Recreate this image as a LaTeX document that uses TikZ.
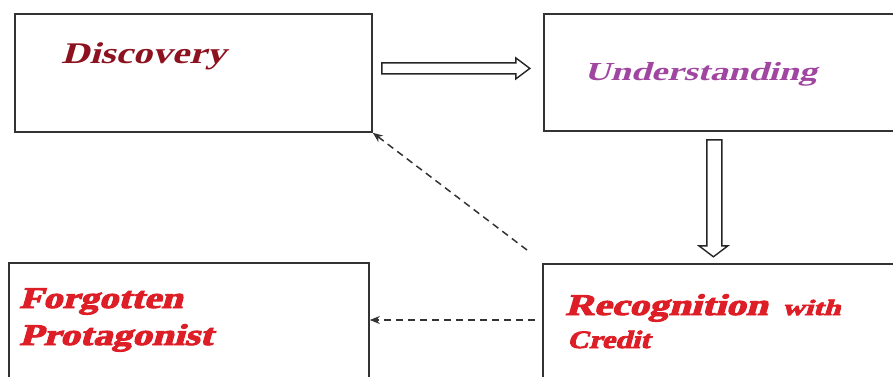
\documentclass[tikz,border=0pt]{standalone}
\usepackage{fontspec}
\setmainfont{Liberation Serif}
\newfontfamily\bifont[FakeSlant=0.22]{Liberation Serif Bold}
\newfontfamily\heavyfont[FakeSlant=0.22,FakeBold=3]{Liberation Serif Bold}
\usetikzlibrary{arrows.meta,calc}
\definecolor{discred}{RGB}{140,18,32}
\definecolor{undpurple}{RGB}{160,70,160}
\definecolor{brightred}{RGB}{222,30,38}
\tikzset{
  box/.style={draw=black!80, line width=1.8pt, anchor=north west, inner sep=0pt},
  txt/.style={anchor=base west, inner sep=0pt},
  hollow/.style={draw=black!85, line width=1.4pt, fill=white, line join=miter},
  dasharrow/.style={draw=black!80, line width=1.5pt, dash pattern=on 7pt off 5pt, -{Stealth[length=10pt,width=8pt]}}
}
\begin{document}
\begin{tikzpicture}[x=1pt,y=1pt]
\useasboundingbox (0,0) rectangle (893,376);
\clip (0,0) rectangle (893,376);
% boxes
\node[box, minimum width=357pt, minimum height=118pt] (disc) at (14,363) {};
\node[box, minimum width=362pt, minimum height=117pt] (und) at (543,363) {};
\node[box, minimum width=360pt, minimum height=130pt] (forg) at (8,114) {};
\node[box, minimum width=362pt, minimum height=130pt] (rec) at (542,113) {};
% texts
\node[txt, text=discred] (tdisc) at (61,313) {\bifont\fontsize{30}{30}\selectfont\scalebox{1.3}[1]{Discovery}};
\node[txt, text=undpurple] (tund) at (584,296) {\bifont\fontsize{26}{26}\selectfont\scalebox{1.4}[1]{Understanding}};
\node[txt, text=brightred] (tforg1) at (19,68) {\heavyfont\fontsize{30}{30}\selectfont\scalebox{1.29}[1]{Forgotten}};
\node[txt, text=brightred] (tforg2) at (19,31) {\heavyfont\fontsize{30}{30}\selectfont\scalebox{1.31}[1]{Protagonist}};
\node[txt, text=brightred] (trec1) at (565,61) {\heavyfont\fontsize{30}{30}\selectfont\scalebox{1.32}[1]{Recognition}};
\node[txt, text=brightred] (trec2) at (782,61) {\heavyfont\fontsize{22}{22}\selectfont\scalebox{1.4}[1]{with}};
\node[txt, text=brightred] (trec3) at (567,28) {\heavyfont\fontsize{25}{25}\selectfont\scalebox{1.2}[1]{Credit}};
% hollow arrow Discovery -> Understanding
\path[hollow] ($(disc.east)+(9,10)$)
  -- ++(134,0) -- ++(0,5) -- ++(14,-10.5) -- ++(-14,-10.5) -- ++(0,5) -- ++(-134,0) -- cycle;
% hollow arrow Understanding -> Recognition
\path[hollow] ($(und.south)+(-18,-8)$)
  -- ++(0,-106) -- ++(-8,0) -- ++(14.5,-11) -- ++(14.5,11) -- ++(-6,0) -- ++(0,106) -- cycle;
% dashed arrows
\coordinate (d1) at (527,126);
\draw[dasharrow] (d1) -- (disc.south east);
\coordinate (d2) at (535,56);
\draw[dasharrow] (d2) -- (forg.east |- d2);
\end{tikzpicture}
\end{document}
